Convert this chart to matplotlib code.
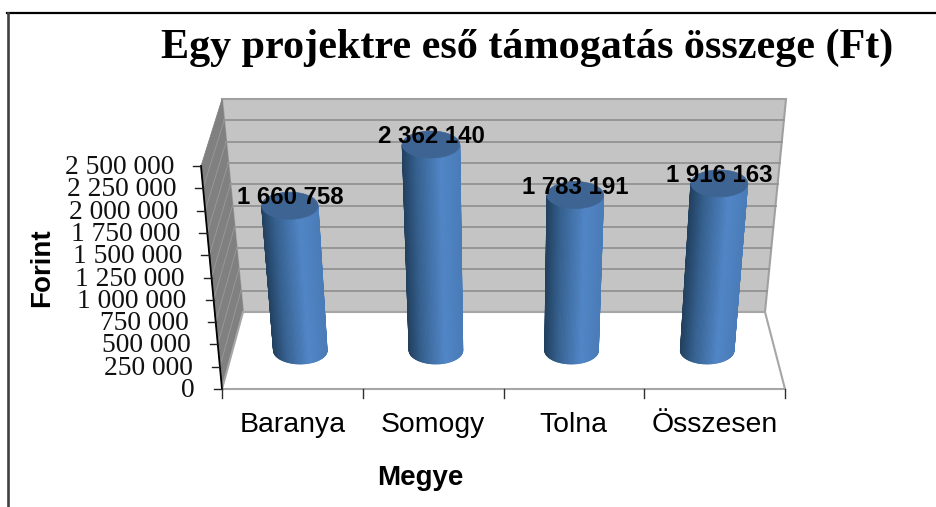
import numpy as np
import matplotlib
matplotlib.use('Agg')
import matplotlib.pyplot as plt
from matplotlib.colors import LinearSegmentedColormap
from matplotlib.patches import Polygon

# Data
categories = ['Baranya', 'Somogy', 'Tolna', 'Összesen']
values = [1660758, 2362140, 1783191, 1916163]
value_labels = ['1 660 758', '2 362 140', '1 783 191', '1 916 163']
tick_values = [0, 250000, 500000, 750000, 1000000, 1250000, 1500000,
               1750000, 2000000, 2250000, 2500000]
tick_labels = ['0', '250 000', '500 000', '750 000', '1 000 000', '1 250 000',
               '1 500 000', '1 750 000', '2 000 000', '2 250 000', '2 500 000']
title = 'Egy projektre eső támogatás összege (Ft)'
xlabel = 'Megye'
ylabel = 'Forint'

vmax = 2500000
serif = 'Liberation Serif'
sans = 'Liberation Sans'

# the fake 3D box: pixel corners of the walls
front_left, front_right = 222, 785
back_left, back_right = 243, 765
front_y0, front_y1 = 389, 166
back_y0, back_y1 = 312, 99
lean = 21
bar_depth = 0.5


def project(frac, value, depth):
    v = value / vmax
    left = front_left + (back_left - front_left) * depth - lean * v
    right = front_right + (back_right - front_right) * depth + lean * v
    y0 = front_y0 + (back_y0 - front_y0) * depth
    y1 = front_y1 + (back_y1 - front_y1) * depth
    return left + frac * (right - left), y0 + (y1 - y0) * v


def half_width(value, depth):
    return 0.0495 * (project(1, value, depth)[0] - project(0, value, depth)[0])


fig = plt.figure(figsize=(9.36, 5.07), dpi=100, facecolor='white')
ax = fig.add_axes([0, 0, 1, 1])
ax.set_xlim(0, 936)
ax.set_ylim(507, 0)
ax.axis('off')

# outer frame (top and left only)
ax.plot([7, 936], [13, 13], color='black', lw=1.6)
ax.plot([8, 8], [13, 507], color='#404040', lw=1.9)

# back wall, left wall, floor
ax.add_patch(Polygon([project(0, vmax, 1), project(1, vmax, 1), project(1, 0, 1), project(0, 0, 1)],
                     fc='#c4c4c4', ec='#a0a0a0', lw=1.5, zorder=1))
ax.add_patch(Polygon([project(0, vmax, 1), project(0, 0, 1), project(0, 0, 0), project(0, vmax, 0)],
                     fc='#808080', ec='#808080', lw=0.5, zorder=1))
ax.add_patch(Polygon([project(0, 0, 1), project(1, 0, 1), project(1, 0, 0), project(0, 0, 0)],
                     fc='white', ec='#a6a6a6', lw=1.5, zorder=1))

# gridlines and value axis
for t in tick_values[1:-1]:
    a, b = project(0, t, 1), project(1, t, 1)
    ax.plot([a[0], b[0]], [a[1], b[1]], color='#939393', lw=1.3, zorder=2)
    c = project(0, t, 0)
    ax.plot([c[0], a[0]], [c[1], a[1]], color='#979797', lw=0.7, zorder=2)

a, b = project(0, 0, 0), project(0, vmax, 0)
ax.plot([a[0], b[0]], [a[1], b[1]], color='black', lw=1.3, zorder=3)
for t, lab in zip(tick_values, tick_labels):
    x, y = project(0, t, 0)
    ax.plot([x - 8, x], [y, y], color='#202020', lw=1, zorder=3)
    ax.text(x - 27, y + 1.5, lab, family=serif, fontsize=19.8, ha='right', va='center', color='#111111')

# category ticks and labels
for i in range(len(categories) + 1):
    x, y = project(i / len(categories), 0, 0)
    ax.plot([x, x], [y, y + 9], color='#303030', lw=1, zorder=3)
for i, name in enumerate(categories):
    x, y = project((i + 0.5) / len(categories), 0, 0)
    ax.text(x, 425, name, family=sans, fontsize=20.4, ha='center', va='center', color='black')

# cylinders, side shading goes dark on the left to bright right of centre
side_cmap = LinearSegmentedColormap.from_list(
    'side', [(0, '#22405f'), (0.25, '#35608f'), (0.68, '#5085c6'), (1, '#4a7cb8')])
top_cmap = LinearSegmentedColormap.from_list('top', ['#3a5f8c', '#41699a'])
ry = 13.5

for i, val in enumerate(values):
    frac = (i + 0.5) / len(values)
    x0, y0 = project(frac, 0, bar_depth)
    x1, y1 = project(frac, val, bar_depth)
    a0, a1 = half_width(0, bar_depth), half_width(val, bar_depth)

    # side of the cylinder as thin strips round the front half
    n = 70
    th = np.linspace(np.pi, 0, n + 1)
    for k in range(n):
        t0, t1 = th[k], th[k + 1]
        pos = (np.cos((t0 + t1) / 2) + 1) / 2
        col = side_cmap(pos)
        ax.add_patch(Polygon([
            (x1 + a1 * np.cos(t0), y1 + ry * np.sin(t0)),
            (x1 + a1 * np.cos(t1), y1 + ry * np.sin(t1)),
            (x0 + a0 * np.cos(t1), y0 + ry * np.sin(t1)),
            (x0 + a0 * np.cos(t0), y0 + ry * np.sin(t0)),
        ], fc=col, ec=col, lw=0.6, zorder=4))

    # top ellipse
    th2 = np.linspace(0, 2 * np.pi, 80)
    ax.add_patch(Polygon(np.column_stack([x1 + a1 * np.cos(th2), y1 + ry * np.sin(th2)]),
                         fc=top_cmap(0.5), ec=top_cmap(0.5), lw=0.5, zorder=5))

    ax.text(x1, y1 - 8, value_labels[i], family=sans, fontsize=17.3, fontweight='bold',
            ha='center', va='center', color='black', zorder=6)

# titles
ax.text(527, 48, title, family=serif, fontsize=30.3, fontweight='bold', ha='center', va='center', color='black')
ax.text(420, 478, xlabel, family=sans, fontsize=20, fontweight='bold', ha='center', va='center', color='black')
ax.text(42, 268, ylabel, family=sans, fontsize=20, fontweight='bold', rotation=90,
        ha='center', va='center', color='black')

fig.savefig('out.png', dpi=100)
